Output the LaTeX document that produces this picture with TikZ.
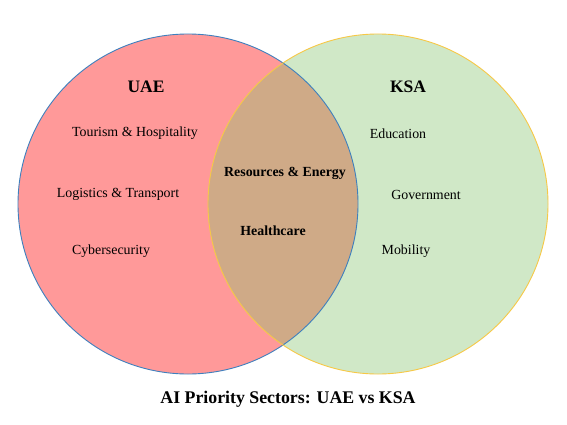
\documentclass[tikz,border=0pt]{standalone}
\usepackage{fontspec}
\setmainfont{Liberation Serif}
\definecolor{uaefill}{RGB}{255,153,153}
\definecolor{ksafill}{RGB}{208,232,199}
\definecolor{bothfill}{RGB}{207,170,135}
\definecolor{uaeline}{RGB}{62,128,190}
\definecolor{ksaline}{RGB}{247,200,70}
\tikzset{
  item/.style={font=\fontsize{13.9}{16}\selectfont, inner sep=0pt},
  bolditem/.style={font=\fontsize{13.9}{16}\selectfont\bfseries, inner sep=0pt},
  head/.style={font=\fontsize{17.5}{20}\selectfont\bfseries, inner sep=0pt},
  titletext/.style={font=\fontsize{17.8}{20}\selectfont\bfseries, inner sep=0pt}
}
\begin{document}
\begin{tikzpicture}[x=1pt,y=-1pt]
\useasboundingbox (0,0) rectangle (567,425);
\fill[white] (0,0) rectangle (567,425);
\coordinate (cu) at (188,204);
\coordinate (ck) at (378,204);
\fill[uaefill] (cu) circle[radius=170];
\fill[ksafill] (ck) circle[radius=170];
\begin{scope}
  \clip (cu) circle[radius=170];
  \fill[bothfill] (ck) circle[radius=170];
\end{scope}
\draw[uaeline, line width=0.9pt] (cu) circle[radius=170];
\draw[ksaline, line width=0.9pt] (ck) circle[radius=170];
\node[head] (uae) at (146,87) {UAE};
\node[head] (ksa) at (408,87) {KSA};
\node[item] (t1) at (135,133.5) {Tourism \& Hospitality};
\node[item] (t2) at (118,194.5) {Logistics \& Transport};
\node[item] (t3) at (111,251.5) {Cybersecurity};
\node[item] (k1) at (398,133.5) {Education};
\node[item] (k2) at (426,194.5) {Government};
\node[item] (k3) at (406,251.5) {Mobility};
\node[bolditem] (b1) at (285,173.5) {Resources \& Energy};
\node[bolditem] (b2) at (273,230.5) {Healthcare};
\node[titletext] (title) at (288,399) {AI Priority Sectors: UAE vs KSA};
\end{tikzpicture}
\end{document}
